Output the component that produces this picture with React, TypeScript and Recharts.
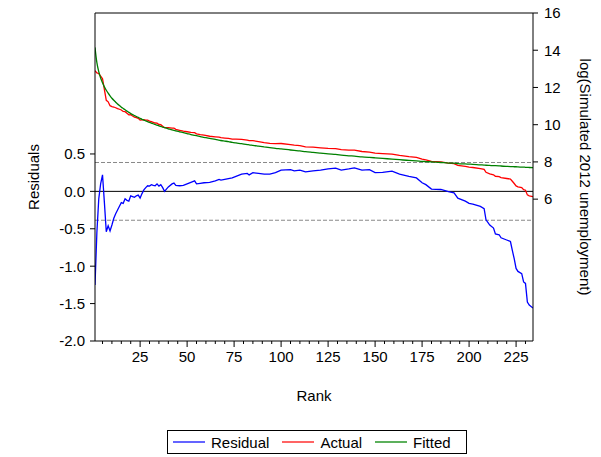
import { LineChart, Line, XAxis, YAxis, ReferenceLine } from "recharts";

const ranks = [
  1, 2, 3, 4, 5, 6, 7, 8, 9, 10, 11, 12, 13, 14, 15, 16, 17, 18, 19, 20, 21, 22, 23, 24, 25, 26, 27, 28, 29, 30,
  31, 32, 33, 34, 35, 36, 37, 38, 39, 40, 42, 43, 44, 46, 48, 50, 52, 54, 55, 57, 59, 62, 65, 67, 68, 70, 72, 74,
  76, 79, 82, 83, 85, 88, 91, 94, 97, 100, 105, 107, 110, 113, 117, 121, 125, 129, 132, 136, 139, 143, 147, 150,
  154, 159, 163, 168, 172, 175, 177, 180, 185, 189, 192, 194, 198, 200, 202, 206, 208, 209, 211, 213, 214, 216,
  217, 220, 222, 223, 224, 225, 226, 228, 229, 230, 231, 232, 234,
];

const residual = [
  -1.25, -0.55, -0.1, 0.1, 0.22, -0.15, -0.54, -0.46, -0.53, -0.45, -0.36, -0.3, -0.25, -0.2, -0.15, -0.16, -0.1,
  -0.12, -0.13, -0.06, -0.07, -0.08, -0.06, -0.05, -0.09, -0.03, 0.02, 0.05, 0.075, 0.07, 0.09, 0.08, 0.075, 0.1,
  0.07, 0.09, 0.05, 0.0, 0.03, 0.06, 0.1, 0.11, 0.08, 0.075, 0.08, 0.1, 0.12, 0.14, 0.1, 0.107, 0.115, 0.12, 0.14,
  0.16, 0.15, 0.16, 0.17, 0.18, 0.2, 0.23, 0.24, 0.22, 0.25, 0.24, 0.23, 0.23, 0.25, 0.285, 0.29, 0.275, 0.285,
  0.26, 0.275, 0.285, 0.3, 0.31, 0.285, 0.3, 0.315, 0.285, 0.29, 0.25, 0.255, 0.27, 0.23, 0.2, 0.18, 0.115, 0.09,
  0.03, 0.025, -0.005, -0.02, -0.09, -0.13, -0.16, -0.17, -0.2, -0.23, -0.38, -0.45, -0.49, -0.57, -0.58, -0.62,
  -0.65, -0.67, -0.79, -0.9, -1.03, -1.07, -1.1, -1.21, -1.23, -1.48, -1.52, -1.56,
];

const actual = [
  12.9, 12.78, 12.75, 12.61, 12.47, 11.88, 11.31, 11.23, 11.02, 10.97, 10.95, 10.91, 10.86, 10.83, 10.79, 10.71,
  10.7, 10.61, 10.53, 10.54, 10.47, 10.41, 10.38, 10.34, 10.25, 10.26, 10.27, 10.25, 10.24, 10.19, 10.17, 10.13,
  10.09, 10.08, 10.01, 10.0, 9.92, 9.84, 9.84, 9.84, 9.82, 9.81, 9.75, 9.7, 9.65, 9.62, 9.59, 9.57, 9.51, 9.47,
  9.44, 9.38, 9.35, 9.33, 9.3, 9.28, 9.26, 9.23, 9.22, 9.21, 9.17, 9.14, 9.14, 9.09, 9.04, 9.0, 8.98, 8.99, 8.93,
  8.9, 8.88, 8.81, 8.79, 8.76, 8.73, 8.71, 8.66, 8.63, 8.63, 8.56, 8.53, 8.47, 8.45, 8.42, 8.35, 8.28, 8.24, 8.15,
  8.11, 8.03, 8.0, 7.94, 7.91, 7.82, 7.76, 7.72, 7.7, 7.64, 7.6, 7.44, 7.36, 7.31, 7.23, 7.21, 7.16, 7.11, 7.08,
  6.96, 6.84, 6.71, 6.66, 6.62, 6.51, 6.48, 6.23, 6.18, 6.13,
];

const fitted = [
  14.15, 13.33, 12.85, 12.51, 12.25, 12.03, 11.85, 11.69, 11.55, 11.42, 11.31, 11.21, 11.11, 11.03, 10.94, 10.87,
  10.8, 10.73, 10.66, 10.6, 10.54, 10.49, 10.44, 10.39, 10.34, 10.29, 10.25, 10.2, 10.16, 10.12, 10.08, 10.05,
  10.01, 9.98, 9.94, 9.91, 9.87, 9.84, 9.81, 9.78, 9.72, 9.7, 9.67, 9.62, 9.57, 9.52, 9.47, 9.43, 9.41, 9.36,
  9.32, 9.26, 9.21, 9.17, 9.15, 9.12, 9.09, 9.05, 9.02, 8.98, 8.93, 8.92, 8.89, 8.85, 8.81, 8.77, 8.73, 8.7,
  8.64, 8.62, 8.59, 8.55, 8.51, 8.47, 8.43, 8.4, 8.37, 8.33, 8.31, 8.27, 8.24, 8.22, 8.19, 8.15, 8.12, 8.08,
  8.06, 8.03, 8.02, 8.0, 7.97, 7.94, 7.93, 7.91, 7.89, 7.88, 7.87, 7.84, 7.83, 7.82, 7.81, 7.8, 7.8, 7.79, 7.78,
  7.76, 7.75, 7.75, 7.74, 7.74, 7.73, 7.72, 7.72, 7.71, 7.71, 7.7, 7.69,
];

const rankTicks = [
  5, 10, 15, 20, 25, 30, 35, 40, 45, 50, 55, 60, 65, 70, 75, 80, 85, 90, 95, 100, 105, 110, 115, 120, 125, 130,
  135, 140, 145, 150, 155, 160, 165, 170, 175, 180, 185, 190, 195, 200, 205, 210, 215, 220, 225, 230,
];
const residualTicks = [-2, -1.5, -1, -0.5, 0, 0.5];
const levelTicks = [6, 8, 10, 12, 14, 16];
const seBand = 0.386;

const data = ranks.map((rank, i) => ({
  rank,
  residual: residual[i],
  actual: actual[i],
  fitted: fitted[i],
}));

const FONT = "'Liberation Sans', Arial, sans-serif";

const RankTick = (props: any) => {
  const { x, y, payload } = props;
  const major = payload.value % 25 === 0;
  return (
    <g>
      <line x1={x} x2={x} y1={y} y2={y + (major ? 6 : 3)} stroke="#000" />
      {major && (
        <text x={x} y={y + 21} textAnchor="middle" fontSize={15} fill="#000">
          {payload.value}
        </text>
      )}
    </g>
  );
};

const LeftTitle = (props: any) => {
  const vb = props.viewBox || { y: 13, height: 328 };
  const cy = vb.y + vb.height / 2;
  return (
    <text x={33} y={cy} transform={`rotate(-90, 33, ${cy})`} textAnchor="middle" dominantBaseline="central" fontSize={15} fill="#000">
      Residuals
    </text>
  );
};

const RightTitle = (props: any) => {
  const vb = props.viewBox || { x: 533, y: 13, height: 328 };
  const cy = vb.y + vb.height / 2;
  const cx = vb.x + 52;
  return (
    <text x={cx} y={cy} transform={`rotate(90, ${cx}, ${cy})`} textAnchor="middle" dominantBaseline="central" fontSize={15} fill="#000">
      log(Simulated 2012 unemployment)
    </text>
  );
};

const legendItems = [
  { name: "Residual", color: "#6464ff" },
  { name: "Actual", color: "#ff6464" },
  { name: "Fitted", color: "#5cb05c" },
];

const App = () => {
  return (
    <div style={{ position: "absolute", left: 0, top: 0, width: 601, height: 457, background: "#fff", fontFamily: FONT }}>
      <LineChart width={601} height={457} data={data} margin={{ top: 13, right: 0, bottom: 56, left: 0 }}>
        <XAxis
          dataKey="rank"
          type="number"
          domain={[1, 234]}
          ticks={rankTicks}
          interval={0}
          allowDataOverflow
          height={60}
          tickSize={0}
          tickMargin={0}
          tickLine={false}
          tick={<RankTick />}
          axisLine={{ stroke: "#000" }}
          label={{ value: "Rank", position: "insideBottom", offset: 0, fontSize: 15, fill: "#000" }}
        />
        <YAxis
          yAxisId="left"
          width={95}
          domain={[-2, 2.384]}
          ticks={residualTicks}
          allowDataOverflow
          tickFormatter={(v: number) => v.toFixed(1)}
          tick={{ fontSize: 15, fill: "#000" }}
          tickSize={5}
          tickMargin={5}
          tickLine={{ stroke: "#000" }}
          axisLine={{ stroke: "#000" }}
          label={<LeftTitle />}
        />
        <YAxis
          yAxisId="right"
          orientation="right"
          width={68}
          domain={[-1.62, 16]}
          ticks={levelTicks}
          allowDataOverflow
          tick={{ fontSize: 15, fill: "#000" }}
          tickSize={5}
          tickMargin={6}
          tickLine={{ stroke: "#000" }}
          axisLine={{ stroke: "#000" }}
          label={<RightTitle />}
        />
        <ReferenceLine yAxisId="left" y={2.384} stroke="#000" />
        <ReferenceLine yAxisId="left" y={seBand} stroke="#888" strokeDasharray="4 2" />
        <ReferenceLine yAxisId="left" y={-seBand} stroke="#888" strokeDasharray="4 2" />
        <ReferenceLine yAxisId="left" y={0} stroke="#000" />
        <Line yAxisId="left" type="linear" dataKey="residual" stroke="#0000ff" strokeWidth={1.3} dot={false} isAnimationActive={false} />
        <Line yAxisId="right" type="linear" dataKey="actual" stroke="#ff0000" strokeWidth={1.3} dot={false} isAnimationActive={false} />
        <Line yAxisId="right" type="monotone" dataKey="fitted" stroke="#008000" strokeWidth={1.3} dot={false} isAnimationActive={false} />
      </LineChart>
      <div
        style={{
          position: "absolute",
          left: 167,
          top: 430,
          width: 293,
          height: 22,
          border: "1px solid #000",
          display: "flex",
          alignItems: "center",
          fontSize: 15,
          paddingLeft: 5,
          boxSizing: "content-box",
        }}
      >
        {legendItems.map((item, i) => (
          <div key={item.name} style={{ display: "flex", alignItems: "center", marginRight: i < 2 ? 13 : 0 }}>
            <div style={{ width: 32, height: 0, borderTop: `2px solid ${item.color}`, marginRight: 6 }} />
            <span>{item.name}</span>
          </div>
        ))}
      </div>
    </div>
  );
};

export default App;
